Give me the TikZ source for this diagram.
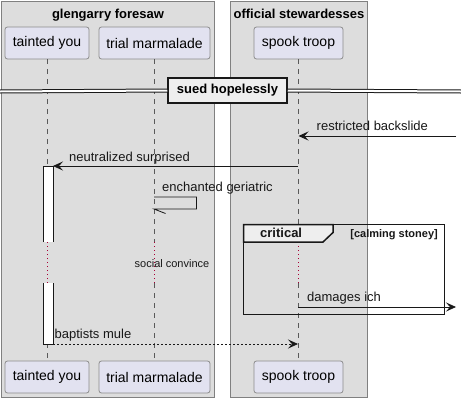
\documentclass[tikz,border=0pt]{standalone}
\usepackage{fontspec}
\setmainfont{Liberation Sans}
\usetikzlibrary{arrows.meta}
\definecolor{grpfill}{HTML}{DDDDDD}
\definecolor{grpline}{HTML}{808080}
\definecolor{actfill}{HTML}{E2E2F0}
\definecolor{actline}{HTML}{8C8C8C}
\definecolor{tabfill}{HTML}{EEEEEE}
\definecolor{delayred}{HTML}{A80036}
\definecolor{ink}{HTML}{181818}
\begin{document}
\begin{tikzpicture}[x=1pt,y=-1pt,
    group/.style={draw=grpline,fill=grpfill,line width=0.8pt},
    grptitle/.style={font=\fontsize{13}{15}\selectfont\bfseries,anchor=base,inner sep=0pt},
    actor/.style={draw=actline,fill=actfill,rounded corners=2.5pt,line width=0.8pt,
      minimum height=32pt,inner sep=0pt,font=\fontsize{14}{16}\selectfont},
    life/.style={draw=black!65,line width=0.6pt,dash pattern=on 5pt off 5pt},
    delay/.style={draw=delayred,line width=0.8pt,dash pattern=on 1pt off 3pt},
    msg/.style={font=\fontsize{13}{15}\selectfont,anchor=base west,inner sep=0pt,text=ink},
    call/.style={draw=ink,line width=0.8pt,-{Stealth[length=10pt,width=9pt,inset=4pt]}},
    reply/.style={call,dash pattern=on 2pt off 2pt},
    activation/.style={draw=ink,fill=white,line width=0.8pt},
    divline/.style={draw=ink,line width=1pt,double=white,double distance=2pt},
    divider/.style={draw=ink,fill=tabfill,line width=1.5pt,inner sep=0pt,
      font=\fontsize{13}{15}\selectfont\bfseries},
    frame/.style={draw=ink,line width=1.5pt}]
  \useasboundingbox[fill=white] (0,0) rectangle (461,402);
  % groups
  \draw[group] (1,1) rectangle (214,397);
  \draw[group] (230,1) rectangle (367,397);
  \node[grptitle] (glengarry) at (108,18.5) {glengarry foresaw};
  \node[grptitle] (official) at (299,18.5) {official stewardesses};
  % participants, top and bottom
  \foreach \n/\x/\w/\label in {tainted/47/84/tainted you,trial/154.5/111/trial marmalade,spook/298.5/89/spook troop} {
    \node[actor,minimum width=\w pt] (\n-top) at (\x,43) {\label};
    \node[actor,minimum width=\w pt] (\n-bot) at (\x,377) {\label};
  }
  % lifelines with the delay
  \foreach \n/\x in {tainted/47.5,trial/154,spook/298} {
    \coordinate (\n-d1) at (\x,242);
    \coordinate (\n-d2) at (\x,283);
    \draw[life] (\x,59) -- (\n-d1);
    \draw[delay] (\n-d1) -- (\n-d2);
    \draw[life] (\n-d2) -- (\x,361);
  }
  % activation of tainted you
  \filldraw[activation] (43,242) -- (43,166) -- (53,166) -- (53,242);
  \filldraw[activation] (43,283) -- (43,344) -- (53,344) -- (53,283);
  % divider
  \node[divider,minimum width=119pt,minimum height=25pt] (sued) at (227.5,90.5) {sued hopelessly};
  \coordinate (div-l) at (0,91.5);
  \coordinate (div-r) at (461,91.5);
  \draw[divline] (div-l) -- (sued.west);
  \draw[divline] (sued.east) -- (div-r);
  % messages
  \coordinate (rb-from) at (456,136);
  \coordinate (rb-to) at (298.5,136);
  \draw[call] (rb-from) -- (rb-to);
  \node[msg] (rb-lbl) at (316.5,130) {restricted backslide};
  \coordinate (ns-from) at (298,166);
  \coordinate (ns-to) at (53,166);
  \draw[call] (ns-from) -- (ns-to);
  \node[msg] (ns-lbl) at (69,161.5) {neutralized surprised};
  \coordinate (eg-from) at (154,197);
  \coordinate (eg-to) at (154,209);
  \draw[draw=ink,line width=0.8pt] (eg-from) -- (196.5,197) -- (196.5,209) -- (eg-to) -- ++(11.5,4.5);
  \node[msg] (eg-lbl) at (162,191.7) {enchanted geriatric};
  \node[font=\fontsize{11}{13}\selectfont,anchor=base,inner sep=0pt,text=ink] (social) at (172,267.5) {social convince};
  % critical frame
  \draw[frame] (243.5,224.5) rectangle (444.5,314.5);
  \filldraw[frame,fill=tabfill] (243.5,224.5) -- (333,224.5) -- (333,232.5) -- (323,242) -- (243.5,242) -- cycle;
  \node[msg,font=\fontsize{13}{15}\selectfont\bfseries] (critical) at (260,237.5) {critical};
  \node[font=\fontsize{11}{13}\selectfont\bfseries,anchor=base east,inner sep=0pt,text=ink] (calming) at (438,237.5) {[calming stoney]};
  \coordinate (di-from) at (298,307);
  \coordinate (di-to) at (456,307);
  \draw[call] (di-from) -- (di-to);
  \node[msg] (di-lbl) at (307,301.7) {damages ich};
  \coordinate (bm-from) at (53,344);
  \coordinate (bm-to) at (298,344);
  \draw[reply] (bm-from) -- (bm-to);
  \node[msg] (bm-lbl) at (54.5,338.3) {baptists mule};
\end{tikzpicture}
\end{document}
